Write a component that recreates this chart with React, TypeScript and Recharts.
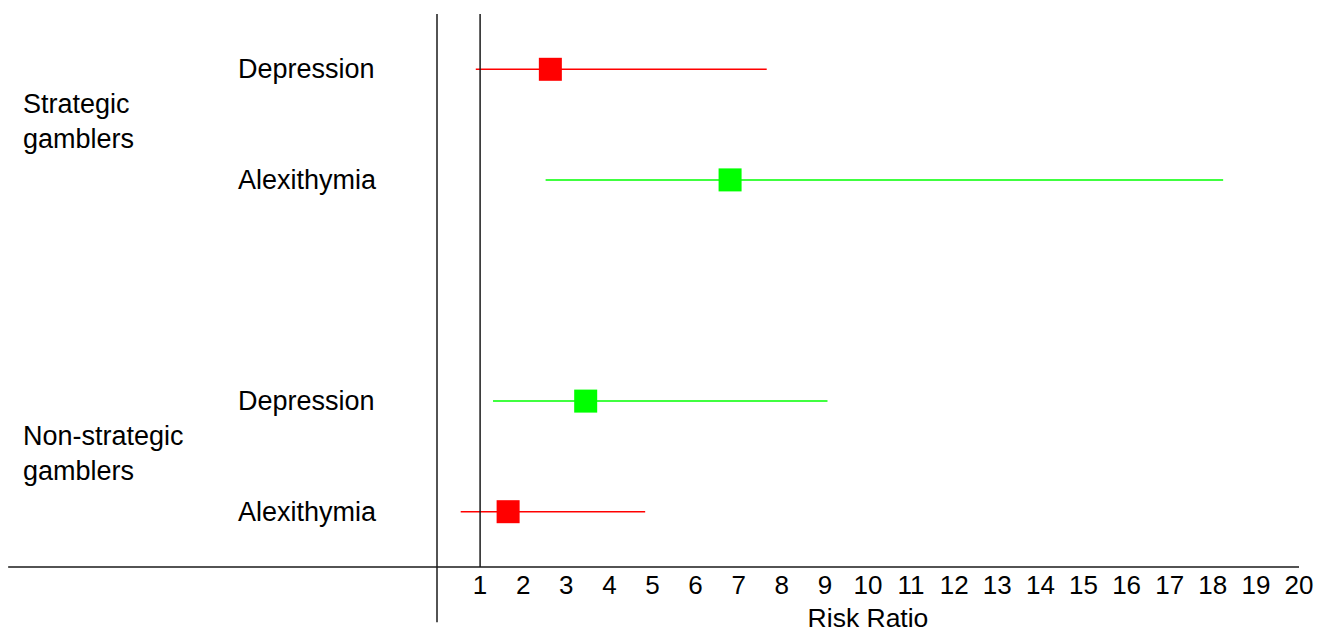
import React from 'react';
import { ScatterChart, Scatter, XAxis, YAxis, ErrorBar, ReferenceLine, Label } from 'recharts';

const groups = ['Strategic gamblers', 'Non-strategic gamblers'];
const groupPositions = [4, 1];
const outcomes = ['Depression', 'Alexithymia', 'Depression', 'Alexithymia'];
const rowPositions = [4.5, 3.5, 1.5, 0.5];
const riskRatios = [2.63, 6.8, 3.45, 1.65];
const ciLower = [0.9, 2.52, 1.3, 0.55];
const ciUpper = [7.65, 18.24, 9.06, 4.83];
const xTicks = [1, 2, 3, 4, 5, 6, 7, 8, 9, 10, 11, 12, 13, 14, 15, 16, 17, 18, 19, 20];
const seriesColors = ['#ff0000', '#00ff00', '#00ff00', '#ff0000'];

const FONT = '"Liberation Sans", Arial, sans-serif';
const FS = 26;
const LFS = 27;

const rows = outcomes.map((o, i) => ({
  outcome: o,
  pos: rowPositions[i],
  rr: riskRatios[i],
  err: [riskRatios[i] - ciLower[i], ciUpper[i] - riskRatios[i]],
}));

const yTicks = [...rowPositions, ...groupPositions];

const YTick = (props: any) => {
  const { y, payload } = props;
  const v = payload.value;
  const ri = rowPositions.indexOf(v);
  if (ri >= 0) {
    return (
      <text x={230} y={y + 9} fontSize={LFS} fontFamily={FONT} fill="#000" textAnchor="start">
        {outcomes[ri]}
      </text>
    );
  }
  const gi = groupPositions.indexOf(v);
  if (gi >= 0) {
    const name = groups[gi];
    const cut = name.lastIndexOf(' ');
    return (
      <text x={15} y={y - 11.5} fontSize={LFS} fontFamily={FONT} fill="#000" textAnchor="start">
        <tspan x={15} dy={0}>{name.slice(0, cut)}</tspan>
        <tspan x={15} dy={34.8}>{name.slice(cut + 1)}</tspan>
      </text>
    );
  }
  return null;
};

const makeSquare = (color: string) => (props: any) => (
  <rect x={props.cx - 11.5} y={props.cy - 11.5} width={23} height={23} fill={color} />
);

export default function App() {
  return (
    <div style={{ fontFamily: FONT }}>
      <ScatterChart width={1311} height={624} margin={{ top: 6, right: 20, bottom: 0, left: 0 }}>
        <XAxis
          type="number"
          dataKey="rr"
          domain={[0, 20]}
          ticks={xTicks}
          interval={0}
          tickLine={false}
          axisLine={{ stroke: '#1a1a1a', strokeWidth: 1.5 }}
          tick={{ fontSize: FS, fill: '#000', fontFamily: FONT }}
          tickMargin={3}
          height={65}
        >
          <Label value="Risk Ratio" position="insideBottom" offset={5} fontSize={26.5} fill="#000" fontFamily={FONT} />
        </XAxis>
        <YAxis
          type="number"
          dataKey="pos"
          domain={[0, 5]}
          ticks={yTicks}
          interval={0}
          width={429}
          axisLine={false}
          tickLine={false}
          tick={<YTick />}
        />
        {rows.map((r, i) => (
          <Scatter
            key={i}
            data={[r]}
            isAnimationActive={false}
            shape={makeSquare(seriesColors[i])}
          >
            <ErrorBar dataKey="err" direction="x" width={0} stroke={seriesColors[i]} strokeWidth={1.5} isAnimationActive={false} />
          </Scatter>
        ))}
        <ReferenceLine
          segment={[{ x: 0, y: -0.5 }, { x: 0, y: 5 }]}
          ifOverflow="visible"
          stroke="#1a1a1a"
          strokeWidth={1.5}
        />
        <ReferenceLine
          segment={[{ x: -9.95, y: 0 }, { x: 0, y: 0 }]}
          ifOverflow="visible"
          stroke="#1a1a1a"
          strokeWidth={1.5}
        />
        <ReferenceLine x={1} stroke="#1a1a1a" strokeWidth={1.5} />
      </ScatterChart>
    </div>
  );
}
